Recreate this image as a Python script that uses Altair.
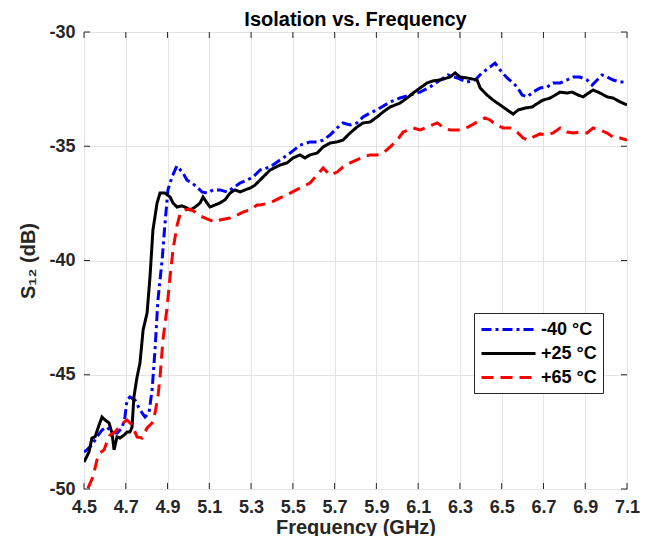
import altair as alt
import pandas as pd

# ---- data ----
series_names = ["-40 °C", "+25 °C", "+65 °C"]
series_colors = ["#0000ff", "#000000", "#ff0000"]
series_dashes = [[10, 4, 3, 4], [1, 0], [12, 7]]

blue_f = [4.500, 4.514, 4.538, 4.562, 4.586, 4.610, 4.634, 4.658, 4.682, 4.696, 4.706, 4.720,
          4.744, 4.768, 4.792, 4.811, 4.826, 4.840, 4.854, 4.874, 4.888, 4.902, 4.921, 4.945,
          4.974, 4.993, 5.017, 5.041, 5.065, 5.089, 5.118, 5.151, 5.185, 5.214, 5.247, 5.281,
          5.309, 5.343, 5.391, 5.439, 5.487, 5.534, 5.582, 5.616, 5.645, 5.678, 5.712, 5.740,
          5.774, 5.807, 5.836, 5.870, 5.903, 5.966, 6.013, 6.061, 6.109, 6.157, 6.205, 6.243,
          6.286, 6.334, 6.373, 6.406, 6.444, 6.468, 6.492, 6.526, 6.550, 6.574, 6.598, 6.622,
          6.650, 6.684, 6.717, 6.746, 6.780, 6.813, 6.842, 6.875, 6.909, 6.933, 6.957, 6.981,
          7.005, 7.034, 7.067, 7.100]
blue_db = [-48.38, -48.29, -48.07, -47.72, -47.42, -47.29, -47.51, -47.55, -47.33, -46.85, -46.11, -45.97,
           -46.11, -46.54, -46.85, -46.67, -45.67, -43.92, -41.73, -39.98, -38.36, -36.91, -36.35, -35.86,
           -36.17, -36.48, -36.61, -36.78, -37.00, -37.05, -36.91, -36.91, -37.00, -36.83, -36.61, -36.48,
           -36.35, -36.04, -35.91, -35.60, -35.30, -34.95, -34.81, -34.81, -34.73, -34.51, -34.20, -33.98,
           -34.07, -33.98, -33.72, -33.54, -33.41, -33.06, -32.89, -32.76, -32.63, -32.41, -32.10, -31.88,
           -32.01, -32.19, -32.10, -31.79, -31.53, -31.36, -31.66, -32.01, -32.19, -32.41, -32.76, -32.84,
           -32.63, -32.45, -32.41, -32.23, -32.23, -32.10, -31.97, -31.97, -32.10, -32.32, -32.10, -31.88,
           -31.97, -32.10, -32.19, -32.19]

black_f = [4.500, 4.524, 4.538, 4.553, 4.572, 4.586, 4.601, 4.620, 4.634, 4.644, 4.658, 4.672,
           4.692, 4.706, 4.720, 4.730, 4.739, 4.754, 4.768, 4.783, 4.802, 4.816, 4.830, 4.850,
           4.864, 4.888, 4.912, 4.926, 4.945, 4.969, 4.993, 5.008, 5.032, 5.056, 5.070, 5.089,
           5.103, 5.127, 5.151, 5.175, 5.199, 5.223, 5.247, 5.271, 5.295, 5.319, 5.343, 5.391,
           5.439, 5.472, 5.501, 5.534, 5.558, 5.582, 5.616, 5.645, 5.678, 5.712, 5.740, 5.774,
           5.807, 5.836, 5.870, 5.903, 5.932, 5.966, 6.013, 6.047, 6.076, 6.109, 6.143, 6.171,
           6.205, 6.253, 6.277, 6.301, 6.334, 6.382, 6.397, 6.430, 6.459, 6.492, 6.526, 6.555,
           6.579, 6.612, 6.646, 6.674, 6.698, 6.732, 6.756, 6.780, 6.813, 6.837, 6.866, 6.890,
           6.909, 6.938, 6.971, 7.005, 7.034, 7.067, 7.100]
black_db = [-48.82, -48.38, -47.77, -47.72, -47.20, -46.85, -46.98, -47.11, -47.55, -48.29, -47.72, -47.77,
            -47.64, -47.51, -47.51, -47.29, -45.97, -45.10, -44.49, -43.04, -42.30, -40.72, -38.67, -37.48,
            -37.05, -37.05, -37.22, -37.48, -37.66, -37.61, -37.70, -37.79, -37.66, -37.48, -37.22, -37.48,
            -37.66, -37.57, -37.48, -37.35, -37.05, -36.91, -37.00, -36.91, -36.83, -36.70, -36.48, -36.04,
            -35.82, -35.73, -35.51, -35.38, -35.51, -35.38, -35.30, -35.03, -34.86, -34.81, -34.73, -34.42,
            -34.16, -33.98, -33.94, -33.72, -33.50, -33.28, -33.11, -32.89, -32.67, -32.45, -32.23, -32.14,
            -32.10, -31.97, -31.79, -31.97, -32.01, -32.10, -32.45, -32.76, -32.98, -33.19, -33.41, -33.59,
            -33.41, -33.33, -33.28, -33.11, -32.98, -32.89, -32.76, -32.63, -32.67, -32.63, -32.76, -32.84,
            -32.71, -32.54, -32.67, -32.84, -32.89, -33.06, -33.19]

red_f = [4.519, 4.543, 4.562, 4.577, 4.596, 4.610, 4.625, 4.648, 4.668, 4.692, 4.706, 4.730,
         4.754, 4.778, 4.802, 4.826, 4.840, 4.854, 4.864, 4.878, 4.898, 4.912, 4.926, 4.945,
         4.960, 4.984, 5.008, 5.032, 5.056, 5.089, 5.127, 5.151, 5.199, 5.233, 5.261, 5.295,
         5.329, 5.343, 5.391, 5.439, 5.487, 5.534, 5.582, 5.616, 5.645, 5.678, 5.712, 5.740,
         5.774, 5.807, 5.836, 5.870, 5.903, 5.932, 5.966, 6.000, 6.028, 6.076, 6.109, 6.143,
         6.191, 6.219, 6.253, 6.301, 6.339, 6.382, 6.420, 6.444, 6.468, 6.507, 6.540, 6.574,
         6.603, 6.626, 6.650, 6.684, 6.717, 6.746, 6.780, 6.813, 6.842, 6.875, 6.909, 6.938,
         6.971, 7.005, 7.034, 7.067, 7.100]
red_db = [-49.96, -49.47, -48.73, -48.42, -48.29, -47.94, -47.64, -47.51, -47.29, -47.07, -46.98, -47.20,
          -47.72, -47.77, -47.33, -47.11, -46.67, -45.97, -45.10, -43.48, -42.04, -40.72, -39.54, -38.49,
          -37.96, -37.79, -37.75, -37.88, -38.05, -38.18, -38.32, -38.23, -38.14, -38.01, -37.88, -37.79,
          -37.57, -37.57, -37.48, -37.26, -37.05, -36.83, -36.61, -36.26, -35.95, -36.26, -36.13, -35.91,
          -35.73, -35.60, -35.47, -35.38, -35.38, -35.30, -35.03, -34.73, -34.38, -34.20, -34.29, -34.16,
          -33.98, -34.16, -34.29, -34.29, -34.16, -33.94, -33.76, -33.85, -34.03, -34.20, -34.20, -34.38,
          -34.64, -34.73, -34.60, -34.46, -34.51, -34.42, -34.20, -34.38, -34.42, -34.38, -34.42, -34.20,
          -34.29, -34.42, -34.60, -34.64, -34.73]

x_ticks = [4.5, 4.7, 4.9, 5.1, 5.3, 5.5, 5.7, 5.9, 6.1, 6.3, 6.5, 6.7, 6.9, 7.1]
y_ticks = [-50, -45, -40, -35, -30]

title_text = "Isolation vs. Frequency"
x_title = "Frequency (GHz)"
y_title = "S₁₂ (dB)"

# ---- build tables ----
rows = []
for name, fs, ds in zip(series_names, [blue_f, black_f, red_f], [blue_db, black_db, red_db]):
    for f, d in zip(fs, ds):
        rows.append({"freq": f, "s12": d, "series": name})
df = pd.DataFrame(rows)
xt_df = pd.DataFrame({"t": x_ticks})
yt_df = pd.DataFrame({"t": y_ticks})

W, H = 543, 457
FONT = "Liberation Sans"
AXC = "#262626"

xscale = alt.Scale(domain=[4.5, 7.1], nice=False, zero=False)
yscale = alt.Scale(domain=[-50, -30], nice=False, zero=False)

lines = alt.Chart(df).mark_line(strokeWidth=3, clip=True).encode(
    x=alt.X("freq:Q", scale=xscale, title=x_title,
            axis=alt.Axis(values=x_ticks, format=".1f", ticks=False, domain=False,
                          labelFlush=False, labelOverlap=False,
                          grid=True, gridColor="#e3e3e3", gridWidth=1,
                          labelFont=FONT, labelFontSize=18, labelFontWeight="bold",
                          labelColor=AXC, labelPadding=9,
                          titleFont=FONT, titleFontSize=20, titleFontWeight="bold",
                          titleColor=AXC, titlePadding=1)),
    y=alt.Y("s12:Q", scale=yscale, title=y_title,
            axis=alt.Axis(values=y_ticks, labelExpr="'' + datum.value",
                          ticks=False, domain=False,
                          labelFlush=False, labelOverlap=False,
                          grid=True, gridColor="#e3e3e3", gridWidth=1,
                          labelFont=FONT, labelFontSize=18, labelFontWeight="bold",
                          labelColor=AXC, labelPadding=9,
                          titleFont=FONT, titleFontSize=20, titleFontWeight="bold",
                          titleColor=AXC, titlePadding=10)),
    color=alt.Color("series:N",
                    scale=alt.Scale(domain=series_names, range=series_colors),
                    legend=alt.Legend(title=None, orient="none", legendX=390, legendY=281,
                                      symbolType="M-1,0H5", symbolSize=324,
                                      symbolStrokeWidth=3, labelOffset=40,
                                      labelFont=FONT, labelFontSize=18,
                                      labelFontWeight="bold", labelColor="#000000",
                                      padding=6, rowPadding=4,
                                      strokeColor=AXC, fillColor="white")),
    strokeDash=alt.StrokeDash("series:N",
                              scale=alt.Scale(domain=series_names, range=series_dashes),
                              legend=alt.Legend(title=None)),
    order=alt.Order("freq:Q"),
)

tick_style = dict(color=AXC, strokeWidth=1)
xt_bottom = alt.Chart(xt_df).mark_rule(**tick_style).encode(
    x=alt.X("t:Q", scale=xscale), y=alt.value(H), y2=alt.value(H - 6))
xt_top = alt.Chart(xt_df).mark_rule(**tick_style).encode(
    x=alt.X("t:Q", scale=xscale), y=alt.value(0), y2=alt.value(6))
yt_left = alt.Chart(yt_df).mark_rule(**tick_style).encode(
    y=alt.Y("t:Q", scale=yscale), x=alt.value(0), x2=alt.value(6))
yt_right = alt.Chart(yt_df).mark_rule(**tick_style).encode(
    y=alt.Y("t:Q", scale=yscale), x=alt.value(W), x2=alt.value(W - 6))

chart = alt.layer(lines, xt_bottom, xt_top, yt_left, yt_right).properties(
    width=W, height=H,
    title=alt.TitleParams(title_text, font=FONT, fontSize=20, fontWeight="bold",
                          color="#000000", anchor="middle", frame="group",
                          offset=7, dy=14),
    autosize=alt.AutoSizeParams(type="none"),
    padding={"left": 76, "top": 24, "right": 16, "bottom": 47},
).configure_view(stroke=AXC, strokeWidth=1).configure(background="white")

chart.save("out.html", embed_options={"renderer": "svg", "actions": False})
